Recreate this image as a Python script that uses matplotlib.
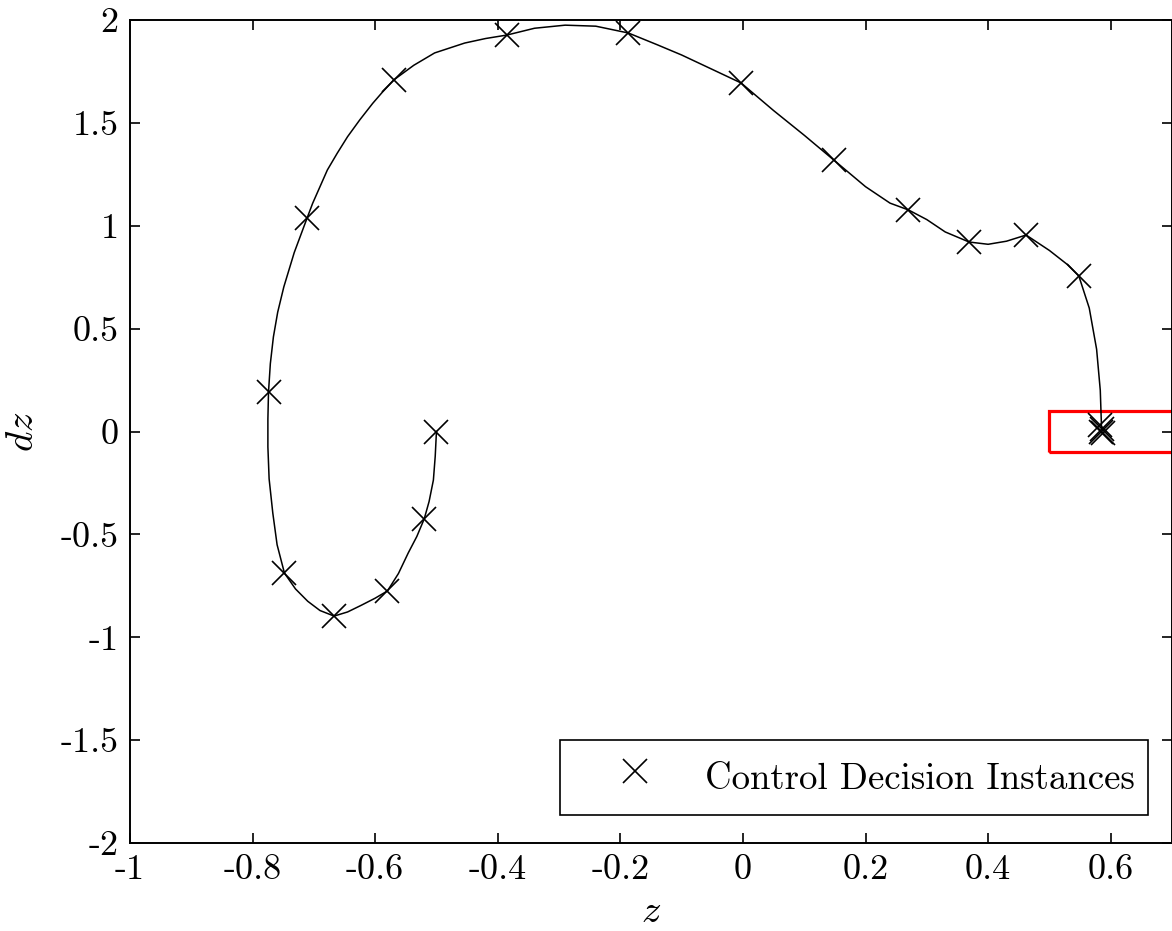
import matplotlib
matplotlib.use("Agg")
import matplotlib.pyplot as plt
from matplotlib.patches import Rectangle

# trajectory of the closed-loop system
traj_z = [-0.500, -0.502, -0.505, -0.512, -0.520, -0.532, -0.546, -0.562, -0.580,
          -0.600, -0.623, -0.645, -0.667, -0.690, -0.710, -0.730, -0.748, -0.760,
          -0.767, -0.773, -0.775, -0.775, -0.774, -0.771, -0.766, -0.759, -0.749,
          -0.732, -0.711, -0.702, -0.690, -0.678, -0.662, -0.645, -0.625, -0.604,
          -0.588, -0.570, -0.537, -0.503, -0.454, -0.420, -0.385, -0.340, -0.290,
          -0.240, -0.187, -0.140, -0.100, -0.050, -0.003, 0.050, 0.100, 0.148,
          0.200, 0.240, 0.270, 0.300, 0.330, 0.369, 0.400, 0.430, 0.462, 0.500,
          0.530, 0.548, 0.565, 0.577, 0.583, 0.585]
traj_dz = [0.000, -0.120, -0.236, -0.340, -0.425, -0.510, -0.590, -0.690, -0.775,
           -0.810, -0.845, -0.877, -0.897, -0.870, -0.825, -0.765, -0.688, -0.550,
           -0.396, -0.230, -0.075, 0.060, 0.192, 0.330, 0.460, 0.580, 0.703,
           0.870, 1.038, 1.109, 1.190, 1.271, 1.352, 1.433, 1.515, 1.595,
           1.650, 1.708, 1.780, 1.840, 1.888, 1.910, 1.927, 1.960, 1.975,
           1.970, 1.937, 1.880, 1.830, 1.760, 1.694, 1.560, 1.440, 1.320,
           1.190, 1.110, 1.077, 1.030, 0.970, 0.921, 0.910, 0.925, 0.955, 0.880,
           0.810, 0.756, 0.600, 0.400, 0.200, 0.020]

# control decision instances
ctrl_z = [-0.500, -0.520, -0.580, -0.667, -0.748, -0.774, -0.711, -0.570, -0.385,
          -0.187, -0.003, 0.148, 0.270, 0.369, 0.462, 0.548, 0.583, 0.585, 0.587, 0.584]
ctrl_dz = [0.000, -0.425, -0.775, -0.897, -0.688, 0.192, 1.038, 1.708, 1.927,
           1.937, 1.694, 1.320, 1.077, 0.921, 0.955, 0.756, 0.030, 0.010, -0.005, 0.000]

plt.rcParams["font.family"] = "cmr10"
plt.rcParams["mathtext.fontset"] = "cm"
plt.rcParams["axes.unicode_minus"] = False
plt.rcParams["axes.formatter.use_mathtext"] = False

fig = plt.figure(figsize=(11.72, 9.31), dpi=100)
ax = fig.add_axes([0.1109, 0.0945, 0.8891, 0.884])

ax.plot(traj_z, traj_dz, color="black", linewidth=1.1)
ax.plot(ctrl_z, ctrl_dz, linestyle="none", marker="x", markersize=17,
        markeredgewidth=1.2, color="black", label="Control Decision Instances")

ax.add_patch(Rectangle((0.5, -0.1), 0.3, 0.2, fill=False, edgecolor="red",
                       linewidth=2.3, clip_on=True))

ax.set_xlim(-1, 0.7)
ax.set_ylim(-2, 2)
ax.set_xticks([-1, -0.8, -0.6, -0.4, -0.2, 0, 0.2, 0.4, 0.6])
ax.set_xticklabels(["-1", "-0.8", "-0.6", "-0.4", "-0.2", "0", "0.2", "0.4", "0.6"])
ax.set_yticks([-2, -1.5, -1, -0.5, 0, 0.5, 1, 1.5, 2])
ax.set_yticklabels(["-2", "-1.5", "-1", "-0.5", "0", "0.5", "1", "1.5", "2"])
ax.tick_params(direction="in", length=7, width=1.2, labelsize=26,
               top=True, right=True, pad=8)
for sp in ax.spines.values():
    sp.set_linewidth(1.4)

ax.set_xlabel("$z$", fontsize=28, labelpad=6)
ax.set_ylabel("$dz$", fontsize=28, labelpad=14)

leg = ax.legend(loc="lower right", fontsize=26.5, fancybox=False, framealpha=1,
                edgecolor="black", borderpad=0.35, handlelength=3.4,
                handleheight=1.7, handletextpad=0.2, borderaxespad=0,
                bbox_to_anchor=(0.977, 0.034))
leg.get_frame().set_linewidth(1.2)

fig.savefig("out.png", dpi=100)
